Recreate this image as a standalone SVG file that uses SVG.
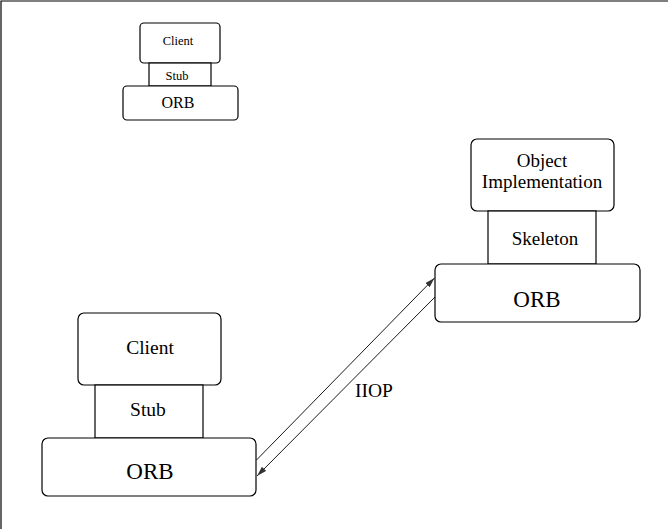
<svg xmlns="http://www.w3.org/2000/svg" width="668" height="529" viewBox="0 0 668 529">
<style>
.box{fill:#fff;stroke:#000;stroke-width:1.2}
.t{font-family:"Liberation Serif","Times New Roman",serif;fill:#000;text-anchor:middle}
.conn{stroke:#000;stroke-width:0.9;fill:none}
</style>
<defs>
<marker id="ah" viewBox="0 0 10 6" refX="10" refY="3" markerWidth="10" markerHeight="6" markerUnits="userSpaceOnUse" orient="auto">
<path d="M0,0 L10,3 L0,6 z" fill="#333"/>
</marker>
</defs>
<rect width="668" height="529" fill="#fff"/>
<path d="M1,529 V1 H668" fill="none" stroke="#000" stroke-width="1.2"/>
<g id="small-client">
<rect class="box" x="140" y="23" width="80" height="40" rx="4"/>
<text class="t" x="178" y="45" font-size="12.5">Client</text>
</g>
<g id="small-stub">
<rect class="box" x="149" y="63" width="62" height="23"/>
<text class="t" x="177" y="80" font-size="12.5">Stub</text>
</g>
<g id="small-orb">
<rect class="box" x="123" y="86" width="115" height="34" rx="4"/>
<text class="t" x="178" y="108" font-size="16">ORB</text>
</g>
<g id="object-implementation">
<rect class="box" x="471" y="139" width="143" height="72" rx="6"/>
<text class="t" x="542" y="167" font-size="19">Object</text>
<text class="t" x="542" y="188" font-size="19">Implementation</text>
</g>
<g id="skeleton">
<rect class="box" x="488" y="211" width="108" height="53"/>
<text class="t" x="545" y="245" font-size="19">Skeleton</text>
</g>
<g id="server-orb">
<rect class="box" x="435" y="264" width="205" height="58" rx="6"/>
<text class="t" x="537" y="307" font-size="23">ORB</text>
</g>
<g id="client">
<rect class="box" x="78" y="313" width="143" height="72" rx="6"/>
<text class="t" x="150" y="354" font-size="19.5">Client</text>
</g>
<g id="stub">
<rect class="box" x="95" y="385" width="108" height="53"/>
<text class="t" x="148" y="416" font-size="19.5">Stub</text>
</g>
<g id="client-orb">
<rect class="box" x="42" y="438" width="214" height="58" rx="6"/>
<text class="t" x="150" y="479" font-size="23">ORB</text>
</g>
<g id="connectors">
<line class="conn" x1="256.5" y1="460" x2="434.5" y2="278" marker-end="url(#ah)"/>
<line class="conn" x1="435" y1="297" x2="257" y2="476" marker-end="url(#ah)"/>
<text class="t" x="374" y="397" font-size="19.5">IIOP</text>
</g>
</svg>
